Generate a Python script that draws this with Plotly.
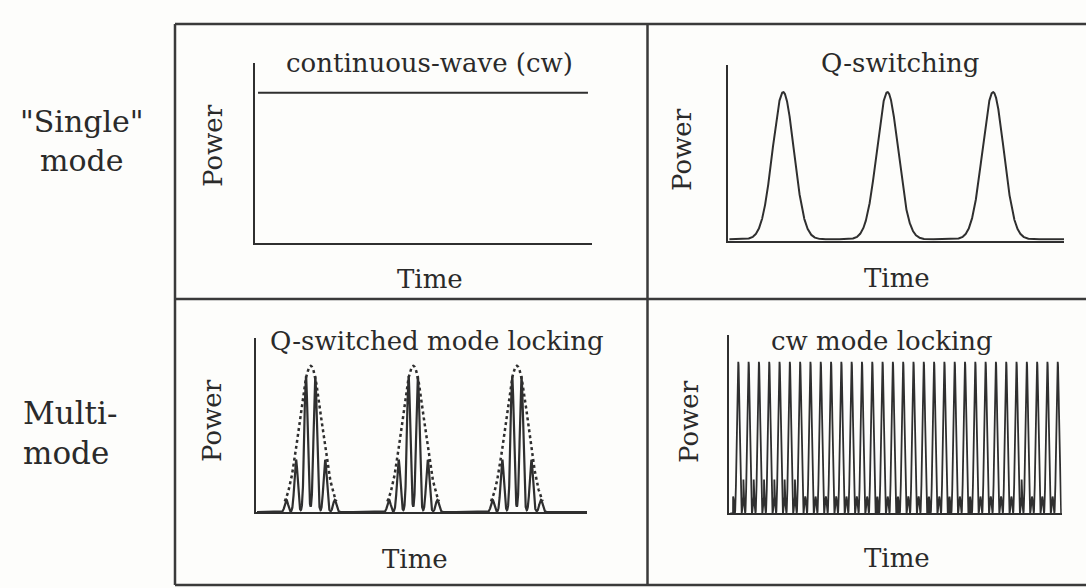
import numpy as np
import plotly.graph_objects as go

# ---------------- data ----------------
# time axis runs 0..10 and power 0..1 in every panel
cw_time = [0.09, 9.88]
cw_power = [0.835, 0.835]

qs_centers = [1.65, 4.75, 7.89]
qs_heights = [0.838, 0.838, 0.838]
qs_width = 0.316          # gaussian sigma of a Q-switched pulse

qsml_centers = [1.65, 4.75, 7.88]
qsml_env_height = 0.84
qsml_env_width = 0.34
qsml_spike_offsets = [-0.73, -0.44, -0.14, 0.14, 0.44, 0.73]
qsml_spike_heights = [0.07, 0.30, 0.78, 0.78, 0.30, 0.07]
qsml_spike_width = 0.05

cwml_spike_times = [0.27, 0.58, 0.89, 1.20, 1.51, 1.82, 2.13, 2.44, 2.75, 3.06,
                    3.37, 3.68, 3.99, 4.30, 4.61, 4.92, 5.23, 5.54, 5.85, 6.16,
                    6.47, 6.78, 7.09, 7.40, 7.71, 8.02, 8.33, 8.64, 8.95, 9.26,
                    9.57, 9.88]
cwml_spike_height = 0.85

panel_titles = ["continuous-wave (cw)", "Q-switching", "Q-switched mode locking", "cw mode locking"]
row_labels = [['"Single"', "mode"], ["Multi-", "mode"]]
x_label = "Time"
y_label = "Power"

# ---------------- curves ----------------
t = np.linspace(0, 10, 4001)

qs_power = np.zeros_like(t) + 0.008
for c, h in zip(qs_centers, qs_heights):
    qs_power += h * np.exp(-(t - c) ** 2 / (2 * qs_width ** 2))
qs_mask = t >= 0.05

qsml_power = np.zeros_like(t)
qsml_env = np.full_like(t, np.nan)
for c in qsml_centers:
    for off, h in zip(qsml_spike_offsets, qsml_spike_heights):
        qsml_power += h * np.exp(-(t - c - off) ** 2 / (2 * qsml_spike_width ** 2))
    sel = np.abs(t - c) <= 0.78
    qsml_env[sel] = qsml_env_height * np.exp(-(t[sel] - c) ** 2 / (2 * qsml_env_width ** 2))
qsml_mask = t >= 0.03

period = float(np.mean(np.diff(cwml_spike_times)))
cwml_power = np.zeros_like(t)
for ti in cwml_spike_times:
    u = t - ti
    sel = np.abs(u) <= period / 2
    cwml_power[sel] += cwml_spike_height * ((1 + 2 * np.cos(2 * np.pi * u[sel] / period)) / 3) ** 2
cwml_mask = t >= 0.03

# ---------------- figure ----------------
W, H = 1086, 588
LC = "#2f2f2f"
TC = "#2a2a2a"
FONT = "DejaVu Serif"


def px(x):
    return x / W


def py(y):
    return 1 - y / H


panels = [  # x0, x1, y_top, y_bottom in pixels
    (255, 592, 63, 243),
    (727.7, 1064, 65, 240.7),
    (256, 587, 338, 512),
    (729.3, 1061.7, 335, 513.3),
]

fig = go.Figure()

line = dict(color=LC, width=2)
fig.add_trace(go.Scatter(x=cw_time, y=cw_power, mode="lines", line=line,
                         xaxis="x", yaxis="y", hoverinfo="skip"))
fig.add_trace(go.Scatter(x=t[qs_mask], y=qs_power[qs_mask], mode="lines", line=line,
                         xaxis="x2", yaxis="y2", hoverinfo="skip"))
fig.add_trace(go.Scatter(x=t[qsml_mask], y=qsml_power[qsml_mask], mode="lines",
                         line=dict(color=LC, width=2.2),
                         xaxis="x3", yaxis="y3", hoverinfo="skip"))
fig.add_trace(go.Scatter(x=t, y=qsml_env, mode="lines",
                         line=dict(color=LC, width=2.5, dash="dot"),
                         xaxis="x3", yaxis="y3", hoverinfo="skip", connectgaps=False))
fig.add_trace(go.Scatter(x=t[cwml_mask], y=cwml_power[cwml_mask], mode="lines",
                         line=dict(color=LC, width=1.8),
                         xaxis="x4", yaxis="y4", hoverinfo="skip"))

layout = dict(
    width=W, height=H, margin=dict(l=0, r=0, t=0, b=0),
    paper_bgcolor="#fdfdfb", plot_bgcolor="rgba(0,0,0,0)",
    showlegend=False,
)
for i, (x0, x1, yt, yb) in enumerate(panels, start=1):
    sfx = "" if i == 1 else str(i)
    ax = dict(showline=True, linecolor=LC, linewidth=2, showgrid=False, zeroline=False,
              showticklabels=False, ticks="", fixedrange=True)
    layout["xaxis" + sfx] = dict(ax, domain=[px(x0), px(x1)], range=[0, 10], anchor="y" + sfx)
    layout["yaxis" + sfx] = dict(ax, domain=[py(yb), py(yt)], range=[0, 1], anchor="x" + sfx)
fig.update_layout(**layout)

# frame
frame = dict(type="line", xref="paper", yref="paper", line=dict(color="#3a3a3a", width=2.5))
shapes = [
    dict(frame, x0=px(175), x1=1, y0=py(24), y1=py(24)),
    dict(frame, x0=px(175), x1=1, y0=py(299), y1=py(299)),
    dict(frame, x0=px(175), x1=1, y0=py(585), y1=py(585)),
    dict(frame, x0=px(175), x1=px(175), y0=py(24), y1=py(585)),
    dict(frame, x0=px(647.5), x1=px(647.5), y0=py(24), y1=py(585)),
]
fig.update_layout(shapes=shapes)

ann = []


def text(s, x, y, size, angle=0, xanchor="center", align="center"):
    ann.append(dict(text=s, x=px(x), y=py(y), xref="paper", yref="paper", showarrow=False,
                    xanchor=xanchor, yanchor="middle", textangle=angle, align=align,
                    borderpad=0,
                    font=dict(family=FONT, size=size, color=TC)))


title_pos = [(429, 63), (900, 63), (437, 341), (882, 341)]
time_pos = [(430, 279), (897, 278), (415, 559), (897, 558)]
power_pos = [(213, 146), (682, 150), (212, 421), (689, 422)]
for s, (x, y) in zip(panel_titles, title_pos):
    text(s, x, y, 26)
for (x, y) in time_pos:
    text(x_label, x, y, 26)
for (x, y) in power_pos:
    text(y_label, x, y, 26, -90)

text("<br>".join(row_labels[0]), 82, 141, 30)
text("<br>".join(row_labels[1]), 22, 433, 31, xanchor="left", align="left")
fig.update_layout(annotations=ann)

fig.write_html("out.html", config={"displayModeBar": False},
               post_script="document.body.style.margin='0px';")
